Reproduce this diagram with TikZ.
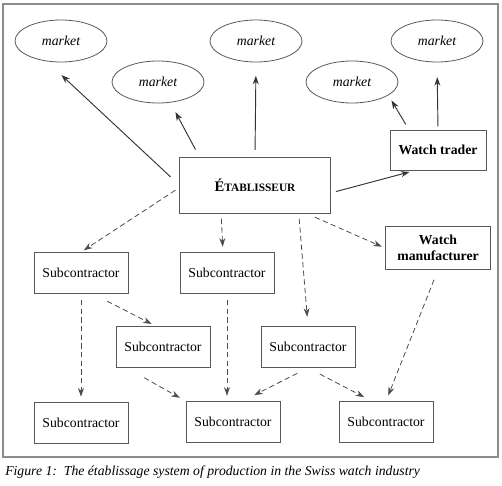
\documentclass[tikz,border=0pt]{standalone}
\usepackage{fontspec}
\setmainfont{Liberation Serif}
\usetikzlibrary{arrows.meta, positioning, shapes.geometric}
\definecolor{frame-gray}{gray}{0.55}
\definecolor{box-gray}{gray}{0.35}
\definecolor{line-gray}{gray}{0.2}
\definecolor{dash-gray}{gray}{0.3}
\newcommand{\figfont}{\fontsize{10.3}{12.4}\selectfont}

\begin{document}
\begin{tikzpicture}[x=0.75pt, y=-0.75pt, >={Stealth[length=6.5pt, width=4.5pt]},
	market/.style={ellipse, draw=box-gray, line width=0.6pt, inner sep=0pt, minimum width=69pt, minimum height=31.5pt, font=\figfont\itshape},
	firm/.style={rectangle, draw=box-gray, line width=0.6pt, inner sep=1pt, minimum width=70.5pt, minimum height=30.75pt, align=center, font=\figfont},
	sell/.style={->, line width=0.7pt, line-gray},
	supply/.style={->, line width=0.6pt, dash-gray, dash pattern=on 4pt off 2.5pt}]
	\useasboundingbox (0,0) rectangle (502,485);
	\draw[frame-gray, line width=0.8pt] (3,4) rectangle (498,457);
	\node[market] (m1) at (61,41) {market};
	\node[market] (m2) at (158,82) {market};
	\node[market] (m3) at (256,41) {market};
	\node[market] (m4) at (352,82) {market};
	\node[market] (m5) at (437,41) {market};
	\node[firm, minimum width=113pt, minimum height=42pt] (etab) at (255,185) {\bfseries\fontsize{11}{13}\selectfont É\fontsize{8.5}{10}\selectfont TABLISSEUR};
	\node[firm, minimum width=72pt, minimum height=30pt, font=\figfont\bfseries] (trader) at (438,150) {Watch trader};
	\node[firm, minimum width=79pt, minimum height=32pt, font=\figfont\bfseries, inner sep=0pt] (maker) at (438,248) {Watch\\manufacturer};
	\node[firm] (s1) at (81,273) {Subcontractor};
	\node[firm] (s2) at (227,273) {Subcontractor};
	\node[firm] (s3) at (163,347) {Subcontractor};
	\node[firm] (s4) at (308,347) {Subcontractor};
	\node[firm, below=81pt of s1] (s5) {Subcontractor};
	\node[firm] (s6) at (233,422) {Subcontractor};
	\node[firm] (s7) at (386,422) {Subcontractor};
	\node[anchor=west, inner sep=0pt, font=\figfont\itshape] (caption) at (5,472) {Figure 1:\ \ The établissage system of production in the Swiss watch industry};
	% sales
	\draw
	(etab.west) edge[sell, shorten <=9pt, shorten >=15pt] (m1.235)
	(etab.153) edge[sell, shorten <=6pt, shorten >=8pt] (m2.-59)
	(etab.north) edge[sell, shorten <=5pt, shorten >=10pt] (m3.south)
	(etab.-6) edge[sell, shorten <=4pt, shorten >=4.5pt] (trader.222)
	(trader.145) edge[sell, shorten <=4.5pt, shorten >=4.5pt] (m4.-20)
	(trader.north) edge[sell, shorten <=2.5pt, shorten >=11pt] (m5.south);
	% subcontracting
	\draw
	(etab.182) edge[supply, shorten <=3.5pt, shorten >=2.5pt] (s1.north)
	(etab.220) edge[supply, shorten <=4pt, shorten >=4pt] (s2.101)
	(etab.-33) edge[supply, shorten <=4pt, shorten >=7pt] (s4.north)
	(etab.-29) edge[supply, shorten <=7pt, shorten >=2.5pt] (maker.west)
	(s1.south) edge[supply, shorten <=4.5pt, shorten >=4pt] (s5.north)
	(s1.-60) edge[supply, shorten <=12pt, shorten >=3.5pt] (s3.109)
	(s2.south) edge[supply, shorten <=4.5pt, shorten >=4pt] (s2.south |- s6.north)
	(s3.210) edge[supply, shorten <=15pt, shorten >=5pt] (s6.north west)
	(s4.south) edge[supply, shorten <=9pt, shorten >=10pt] (s6.66)
	(s4.south) edge[supply, shorten <=10pt, shorten >=6.5pt] (s7.124)
	(maker.south) edge[supply, shorten <=8pt, shorten >=4.5pt] (s7.north);
\end{tikzpicture}
\end{document}
